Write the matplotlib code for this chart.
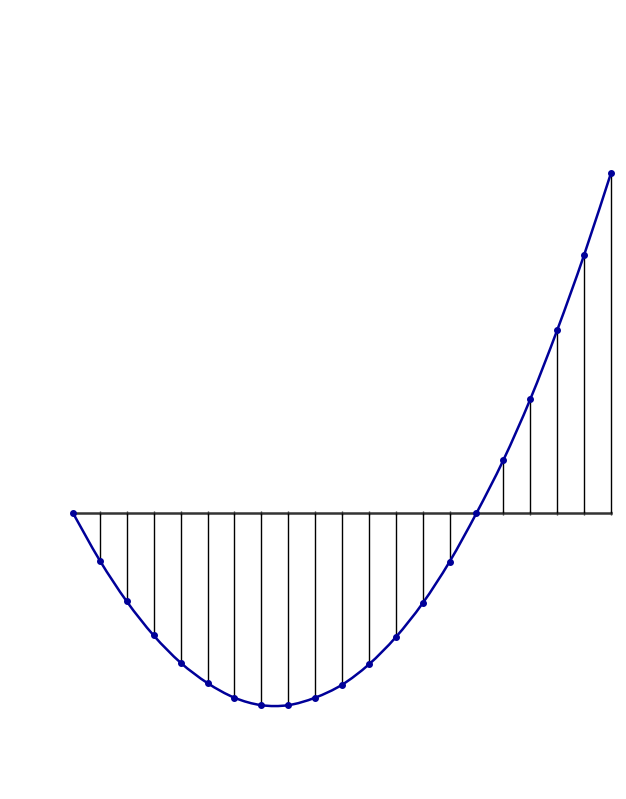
import matplotlib
matplotlib.use('Agg')
import matplotlib.pyplot as plt
import numpy as np
from matplotlib.path import Path
from matplotlib.patches import PathPatch

# sample positions and function values
x_vals = list(range(21))
y_vals = [0, -14, -26, -36, -44, -50, -54.3, -56.5, -56.5, -54.3, -50.5,
          -44.5, -36.5, -26.5, -14.3, 0, 15.6, 33.5, 53.8, 75.9, 100]

fig = plt.figure(figsize=(6.26, 7.99), dpi=100)
ax = fig.add_axes([0, 0, 1, 1])
ax.set_xlim(-2.714, 20.558)
ax.set_ylim(-84.1, 150.9)
ax.axis('off')

# baseline with small ticks
ax.plot([x_vals[0], x_vals[-1]], [0, 0], color='#333333', lw=1.8, zorder=1)
ax.plot(x_vals, [0] * len(x_vals), ls='none', marker='|', ms=3,
        mew=1, color='#333333', zorder=1)

# vertical lines from baseline to curve
ax.vlines(x_vals, 0, y_vals, color='black', lw=1, zorder=2)

# smooth curve through the samples (cubic bezier segments)
px = np.array(x_vals, dtype=float)
py = np.array(y_vals, dtype=float)
verts = [(px[0], py[0])]
codes = [Path.MOVETO]
for i in range(len(px) - 1):
    i0 = max(i - 1, 0)
    i3 = min(i + 2, len(px) - 1)
    c1 = (px[i] + (px[i + 1] - px[i0]) / 6, py[i] + (py[i + 1] - py[i0]) / 6)
    c2 = (px[i + 1] - (px[i3] - px[i]) / 6, py[i + 1] - (py[i3] - py[i]) / 6)
    verts += [c1, c2, (px[i + 1], py[i + 1])]
    codes += [Path.CURVE4] * 3
ax.add_patch(PathPatch(Path(verts, codes), fill=False, edgecolor='#000099',
                       lw=1.8, zorder=3))
ax.plot(x_vals, y_vals, ls='none', marker='o', ms=4, color='#000099', zorder=4)

fig.savefig('out.png', dpi=100)
